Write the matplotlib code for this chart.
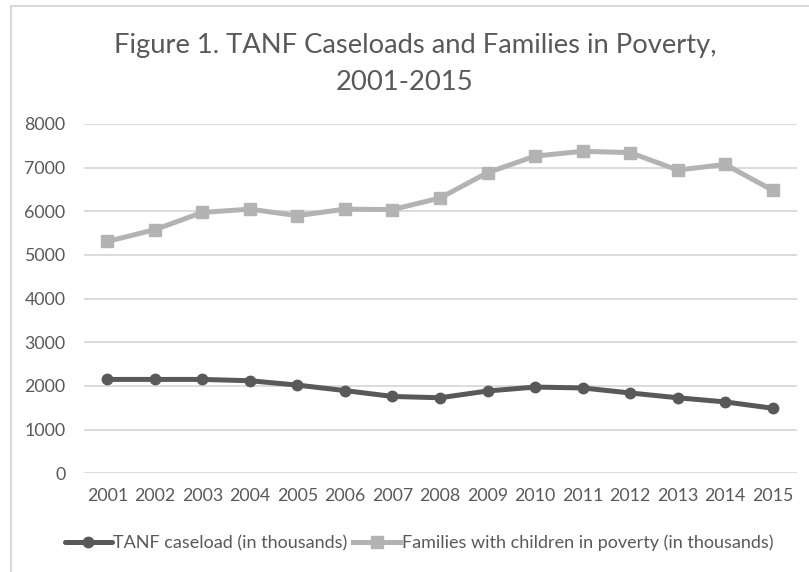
import matplotlib
matplotlib.use("Agg")
import matplotlib.pyplot as plt
from matplotlib.lines import Line2D

plt.rcParams['font.family'] = ['Lato', 'DejaVu Sans']

years = ['2001', '2002', '2003', '2004', '2005', '2006', '2007', '2008',
         '2009', '2010', '2011', '2012', '2013', '2014', '2015']
tanf = [2150, 2150, 2150, 2120, 2020, 1895, 1760, 1730, 1885, 1975, 1955,
        1840, 1730, 1635, 1490]
families = [5310, 5580, 5975, 6050, 5900, 6050, 6040, 6305, 6885, 7265,
            7375, 7345, 6945, 7075, 6480]
yticks = [0, 1000, 2000, 3000, 4000, 5000, 6000, 7000, 8000]
title_line1 = "Figure 1. TANF Caseloads and Families in Poverty,"
title_line2 = "2001-2015"
labels = ['TANF caseload (in thousands)',
          'Families with children in poverty (in thousands)']

txt = '#595959'
fig = plt.figure(figsize=(8.09, 5.72), dpi=100)
ax = fig.add_axes([83.5 / 809, 1 - 473.3 / 572, 713 / 809, (473.3 - 124) / 572])

x = list(range(len(years)))
l1, = ax.plot(x, tanf, color='#595959', lw=3.6, marker='o', ms=7.5,
              solid_capstyle='round', label=labels[0], zorder=3)
l2, = ax.plot(x, families, color='#b3b3b3', lw=3.6, marker='s', ms=8.5,
              label=labels[1], zorder=3)

ax.set_xlim(-0.5, len(years) - 0.5)
ax.set_ylim(0, 8000)
ax.set_yticks(yticks)
ax.set_xticks(x)
ax.set_xticklabels(years)
ax.grid(axis='y', color='#d9d9d9', lw=1.3)
ax.set_axisbelow(True)
for s in ax.spines.values():
    s.set_visible(False)
ax.tick_params(axis='both', length=0, labelsize=12.8, colors=txt)
ax.tick_params(axis='y', pad=13)
ax.tick_params(axis='x', pad=10.5)

fig.text(415 / 809, 1 - 45 / 572, title_line1, ha='center', va='center',
         fontsize=19.7, color=txt)
fig.text(405 / 809, 1 - 82 / 572, title_line2, ha='center', va='center',
         fontsize=19.7, color=txt)

leg = fig.legend(handles=[l1, l2], loc='center', bbox_to_anchor=(419 / 809, 1 - 543 / 572),
                 ncol=2, frameon=False, fontsize=13, handlelength=2.6,
                 handletextpad=0.1, columnspacing=0.3, labelcolor=txt)

# chart border
fig.add_artist(Line2D([11 / 809, 1], [1 - 6 / 572] * 2, color='#d9d9d9', lw=1.5,
                      transform=fig.transFigure))
fig.add_artist(Line2D([11 / 809] * 2, [0, 1 - 6 / 572], color='#d9d9d9', lw=1.5,
                      transform=fig.transFigure))

fig.savefig('out.png', dpi=100)
